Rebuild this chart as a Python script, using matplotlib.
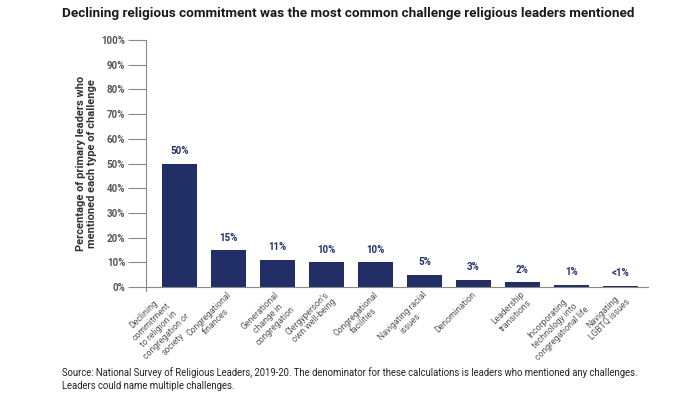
import matplotlib
matplotlib.use("Agg")
import matplotlib.pyplot as plt
from matplotlib.transforms import ScaledTranslation

# Data
categories = [
    "Declining\ncommitment\nto religion in\ncongregation or\nsociety",
    "Congregational\nfinances",
    "Generational\nchange in\ncongregation",
    "Clergyperson's\nown well-being",
    "Congregational\nfacilities",
    "Navigating racial\nissues",
    "Denomination",
    "Leadership\ntransitions",
    "Incorporating\ntechnology into\ncongregational life",
    "Navigating\nLGBTQ issues",
]
values = [50, 15, 11, 10, 10, 5, 3, 2, 1, 0.5]
value_labels = ["50%", "15%", "11%", "10%", "10%", "5%", "3%", "2%", "1%", "<1%"]
yticks = [0, 10, 20, 30, 40, 50, 60, 70, 80, 90, 100]

NAVY = "#222f66"
GREY = "#555555"
AXIS = "#8a8a8a"

plt.rcParams["font.family"] = ["Roboto", "DejaVu Sans"]

fig = plt.figure(figsize=(7, 3.97), dpi=100)
ax = fig.add_axes([0.2086, 0.277, 0.717, 0.622])

x = list(range(len(categories)))
ax.bar(x, values, width=0.71, color=NAVY, zorder=2)

for xi, v, lab in zip(x, values, value_labels):
    ax.text(xi, v + 3, lab, ha="center", va="bottom", fontsize=7,
            fontweight="bold", color=NAVY)

ax.set_xlim(-0.68, 9.56)
ax.set_ylim(0, 100)
ax.set_yticks(yticks)
ax.set_yticklabels([f"{t}%" for t in yticks], fontsize=7, color=GREY,
                   fontweight="bold")
ax.tick_params(axis="y", length=13, color=AXIS, width=0.8, pad=2)

ax.set_xticks(x)
ax.set_xticklabels(categories, rotation=45, ha="right", va="top",
                   rotation_mode="anchor", fontsize=6.2, color=GREY,
                   multialignment="center", linespacing=1.2)
ax.tick_params(axis="x", length=0, pad=2)

# nudge the rotated labels so they sit like the reference
for i, t in enumerate(ax.get_xticklabels()):
    dx = -17 if i == 0 else -2
    t.set_transform(t.get_transform() + ScaledTranslation(dx / 100, 0, fig.dpi_scale_trans))

# small stub of the y axis below zero
ax.plot([-0.68, -0.68], [0, -1.5], color=AXIS, lw=0.8, clip_on=False)

for side in ["top", "right"]:
    ax.spines[side].set_visible(False)
ax.spines["left"].set_color(AXIS)
ax.spines["bottom"].set_color(AXIS)
ax.spines["left"].set_linewidth(0.8)
ax.spines["bottom"].set_linewidth(0.8)

ax.set_ylabel("Percentage of primary leaders who\nmentioned each type of challenge",
              fontsize=8, fontweight="bold", color="#333333", labelpad=3)

fig.text(0.089, 0.965, "Declining religious commitment was the most common challenge religious leaders mentioned",
         fontsize=9.7, fontweight="bold", color="#1a1a1a", va="center")
fig.text(0.089, 0.045,
         "Source: National Survey of Religious Leaders, 2019-20. The denominator for these calculations is leaders who mentioned any challenges.\nLeaders could name multiple challenges.",
         fontsize=6.85, color="#222222", va="center", linespacing=1.4)

fig.savefig("out.png", dpi=100)
